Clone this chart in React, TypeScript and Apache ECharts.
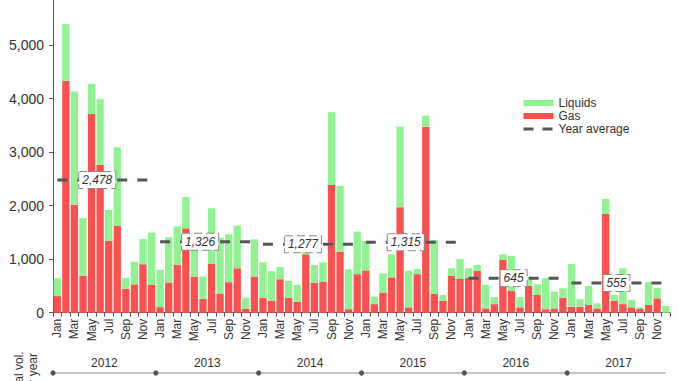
import React, { useEffect, useRef } from "react";
import * as echarts from "echarts";

const years = ["2012", "2013", "2014", "2015", "2016", "2017"];
const monthNames = ["Jan", "Feb", "Mar", "Apr", "May", "Jun", "Jul", "Aug", "Sep", "Oct", "Nov", "Dec"];

const gas2012 = [310, 4330, 2015, 690, 3710, 2760, 1340, 1625, 445, 530, 905, 520];
const gas2013 = [105, 565, 890, 1575, 675, 255, 910, 360, 570, 830, 70, 675];
const gas2014 = [280, 225, 625, 280, 205, 1090, 560, 580, 2385, 1140, 65, 720];
const gas2015 = [790, 160, 375, 660, 1970, 100, 720, 3475, 350, 220, 690, 630];
const gas2016 = [655, 785, 80, 160, 985, 405, 100, 505, 330, 65, 80, 280];
const gas2017 = [110, 110, 145, 80, 1845, 220, 160, 100, 70, 145, 270, 0];

const liquids2012 = [335, 1060, 2115, 1075, 565, 1230, 580, 1465, 200, 420, 470, 975];
const liquids2013 = [695, 845, 720, 585, 495, 420, 1040, 1040, 895, 795, 210, 695];
const liquids2014 = [660, 550, 230, 315, 315, 280, 330, 360, 1360, 1230, 745, 795];
const liquids2015 = [550, 140, 360, 430, 1505, 685, 95, 205, 1010, 110, 140, 370];
const liquids2016 = [175, 105, 440, 130, 105, 655, 190, 115, 200, 580, 315, 175];
const liquids2017 = [800, 140, 355, 95, 280, 110, 670, 135, 30, 425, 195, 125];

const yearAverages = [2478, 1326, 1277, 1315, 645, 555];

const categories = years.flatMap((y) => monthNames.map((m) => m + " " + y));
const gasValues = [gas2012, gas2013, gas2014, gas2015, gas2016, gas2017].flat();
const liquidsValues = [liquids2012, liquids2013, liquids2014, liquids2015, liquids2016, liquids2017].flat();

const FONT = "'Liberation Sans', Arial, sans-serif";
const TEXT = "#333";
const AXIS = "#555";

const fmt = (v: number) => v.toLocaleString("en-US");

export default function App() {
  const ref = useRef<HTMLDivElement>(null);

  useEffect(() => {
    if (!ref.current) return;
    const chart = echarts.init(ref.current, undefined, { renderer: "svg" });

    const avgSeries = yearAverages.map((avg, yi) => {
      const data: any[] = categories.map((_, i) => (Math.floor(i / 12) === yi ? avg : "-"));
      return {
        name: "Year average",
        type: "line",
        xAxisIndex: 0,
        yAxisIndex: 0,
        symbol: "none",
        z: 4,
        silent: true,
        lineStyle: { color: AXIS, width: 3, type: [10, 10] },
        itemStyle: { color: AXIS },
        data,
        markPoint: {
          silent: true,
          symbol: "circle",
          symbolSize: 0,
          z: 6,
          data: [
            {
              coord: [categories[yi * 12 + 7], avg],
              label: {
                show: true,
                position: "left",
                distance: 2,
                opacity: 1,
                formatter: fmt(avg),
                fontStyle: "italic",
                fontSize: 12,
                fontFamily: FONT,
                color: TEXT,
                backgroundColor: "#fff",
                borderColor: "#888",
                borderWidth: 1,
                borderType: "dashed",
                padding: [2, 3, 2, 3],
              },
            },
          ],
        },
      };
    });

    const option: any = {
      animation: false,
      textStyle: { fontFamily: FONT },
      grid: { left: 53, right: 8, top: 0, bottom: 68.3, containLabel: false },
      legend: {
        orient: "vertical",
        left: 522,
        top: 96.5,
        padding: 0,
        itemGap: 0,
        itemWidth: 30,
        itemHeight: 6,
        selectedMode: false,
        textStyle: { fontSize: 12, color: TEXT, lineHeight: 13, fontFamily: FONT },
        data: [
          { name: "Liquids", icon: "rect" },
          { name: "Gas", icon: "rect" },
          { name: "Year average", itemStyle: { opacity: 0 }, lineStyle: { width: 3, type: [10, 9], color: AXIS } },
        ],
      },
      xAxis: [
        {
          type: "category",
          data: categories,
          gridIndex: 0,
          axisLine: { show: true, onZero: false, lineStyle: { color: AXIS, width: 1 } },
          axisTick: { show: true, interval: 0, alignWithLabel: false, length: 4, lineStyle: { color: AXIS } },
          axisLabel: {
            interval: 1,
            rotate: 90,
            margin: 6,
            fontSize: 12,
            color: TEXT,
            fontFamily: FONT,
            formatter: (v: string) => v.split(" ")[0],
          },
          splitLine: { show: false },
        },
        {
          type: "category",
          data: years,
          gridIndex: 0,
          position: "bottom",
          axisLine: { show: false },
          axisTick: { show: false },
          axisLabel: { interval: 0, margin: 44, fontSize: 12, color: TEXT, fontFamily: FONT },
          splitLine: { show: false },
        },
      ],
      yAxis: {
        type: "value",
        min: 0,
        max: 5840,
        interval: 1000,
        axisLine: { show: true, lineStyle: { color: AXIS, width: 1 } },
        axisTick: { show: true, length: 4, lineStyle: { color: AXIS } },
        axisLabel: {
          fontSize: 14,
          color: TEXT,
          margin: 9,
          fontFamily: FONT,
          showMaxLabel: false,
          formatter: (v: number) => fmt(v),
        },
        splitLine: { show: false },
      },
      series: [
        {
          name: "Gas",
          type: "bar",
          stack: "vol",
          xAxisIndex: 0,
          barCategoryGap: "15%",
          itemStyle: { color: "#fa5050" },
          data: gasValues,
        },
        {
          name: "Liquids",
          type: "bar",
          stack: "vol",
          xAxisIndex: 0,
          barCategoryGap: "15%",
          itemStyle: { color: "#91f291" },
          data: liquidsValues,
        },
        ...avgSeries,
      ],
    };

    chart.setOption(option);

    const c0 = chart.convertToPixel({ xAxisIndex: 0 }, categories[0]) as number;
    const c1 = chart.convertToPixel({ xAxisIndex: 0 }, categories[1]) as number;
    const cLast = chart.convertToPixel({ xAxisIndex: 0 }, categories[categories.length - 1]) as number;
    const band = c1 - c0;
    const lineY = 373;
    const graphics: any[] = [
      {
        type: "line",
        shape: { x1: c0 - band / 2, y1: lineY, x2: cLast, y2: lineY },
        style: { stroke: "#888", lineWidth: 1 },
        silent: true,
      },
    ];
    years.forEach((_, yi) => {
      const cx = (chart.convertToPixel({ xAxisIndex: 0 }, categories[yi * 12]) as number) - band / 2;
      graphics.push({
        type: "circle",
        shape: { cx, cy: lineY, r: 2.6 },
        style: { fill: "#555" },
        silent: true,
      });
    });
    graphics.push({
      type: "text",
      x: 25.5,
      y: 375,
      rotation: Math.PI / 2,
      silent: true,
      style: {
        text: "Total vol.\nper year",
        align: "center",
        verticalAlign: "middle",
        font: "12px " + FONT,
        lineHeight: 14,
        fill: TEXT,
      },
    });
    chart.setOption({ graphic: graphics });

    return () => {
      chart.dispose();
    };
  }, []);

  return (
    <div
      ref={ref}
      style={{ position: "fixed", left: 0, top: 0, width: 678, height: 381, background: "#fff" }}
    />
  );
}
